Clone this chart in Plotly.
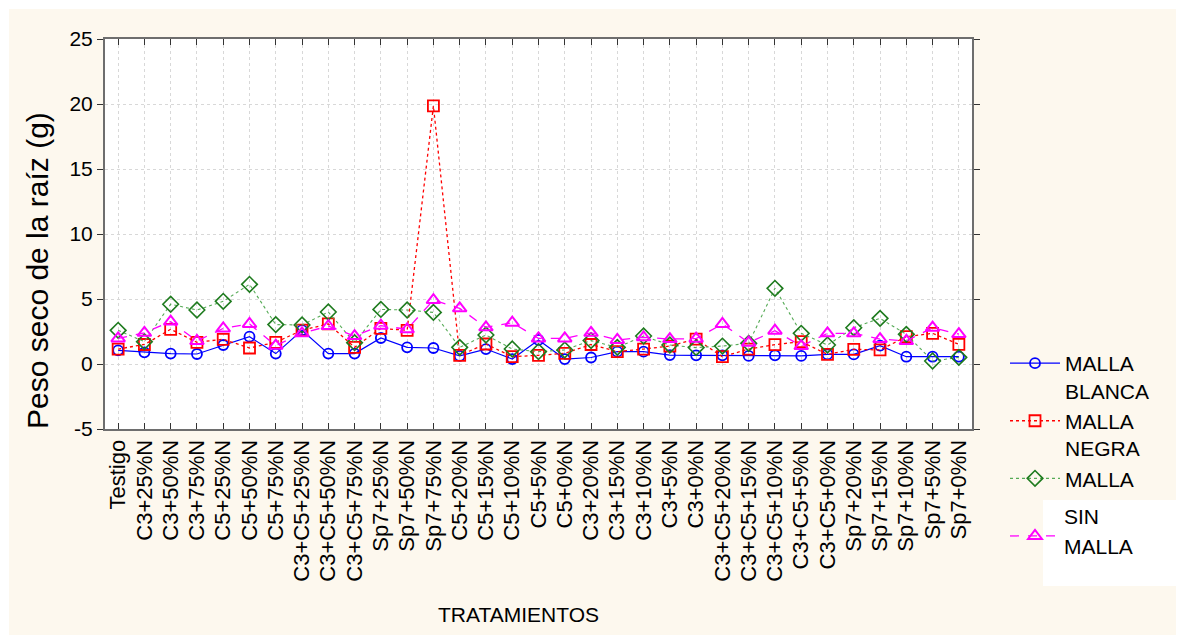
import plotly.graph_objects as go

categorias = ["Testigo", "C3+25%N", "C3+50%N", "C3+75%N", "C5+25%N", "C5+50%N", "C5+75%N",
              "C3+C5+25%N", "C3+C5+50%N", "C3+C5+75%N", "Sp7+25%N", "Sp7+50%N", "Sp7+75%N",
              "C5+20%N", "C5+15%N", "C5+10%N", "C5+5%N", "C5+0%N", "C3+20%N", "C3+15%N",
              "C3+10%N", "C3+5%N", "C3+0%N", "C3+C5+20%N", "C3+C5+15%N", "C3+C5+10%N",
              "C3+C5+5%N", "C3+C5+0%N", "Sp7+20%N", "Sp7+15%N", "Sp7+10%N", "Sp7+5%N", "Sp7+0%N"]

malla_blanca = [1.05, 0.9, 0.8, 0.77, 1.46, 2.1, 0.8, 2.6, 0.8, 0.8, 2.0, 1.28, 1.23, 0.62, 1.15,
                0.38, 1.85, 0.38, 0.5, 0.95, 0.95, 0.69, 0.67, 0.67, 0.62, 0.67, 0.62, 0.74, 0.74,
                1.41, 0.56, 0.56, 0.56]
malla_negra = [1.15, 1.5, 2.67, 1.67, 1.9, 1.23, 1.67, 2.6, 3.08, 1.28, 2.74, 2.59, 19.85, 0.67,
               1.54, 0.56, 0.67, 0.82, 1.5, 0.95, 1.15, 1.38, 1.92, 0.56, 1.15, 1.49, 1.72, 0.74,
               1.13, 1.08, 2.1, 2.36, 1.51]
malla = [2.59, 1.72, 4.6, 4.15, 4.82, 6.13, 3.03, 3.0, 4.0, 1.64, 4.2, 4.15, 3.97, 1.28, 2.23,
         1.15, 0.95, 1.08, 1.8, 1.28, 2.15, 1.46, 1.26, 1.38, 1.59, 5.82, 2.36, 1.46, 2.79, 3.51,
         2.28, 0.23, 0.51]
sin_malla = [1.97, 2.4, 3.26, 1.77, 2.74, 3.08, 1.41, 2.36, 2.92, 2.15, 2.95, 2.67, 4.92, 4.28,
             2.82, 3.18, 1.97, 1.97, 2.4, 1.85, 2.05, 1.92, 1.95, 3.08, 1.64, 2.56, 1.38, 2.36,
             2.36, 1.92, 1.77, 2.79, 2.3]

y_ticks = [-5, 0, 5, 10, 15, 20, 25]

# reference-image pixel geometry (page has an 8px body margin)
OFF = 8
W, H = 1184 - OFF, 635 - OFF
L, R, T, B = 105, 972, 39, 429
FONT = "Arial, Liberation Sans, sans-serif"

def px2x(px):
    return (px - L) / (R - L)

def py2y(py):
    return (B - py) / (B - T)

fig = go.Figure()
fig.add_trace(go.Scatter(x=categorias, y=malla_blanca, name="MALLA<br>BLANCA", mode="lines+markers",
                         line=dict(color="#0000FF", width=1.2),
                         marker=dict(symbol="circle-open", size=10, color="#0000FF", line=dict(width=1.8))))
fig.add_trace(go.Scatter(x=categorias, y=malla_negra, name="MALLA<br>NEGRA", mode="lines+markers",
                         line=dict(color="#FF0000", width=1.3, dash="dot"),
                         marker=dict(symbol="square-open", size=11, color="#FF0000", line=dict(width=1.8))))
fig.add_trace(go.Scatter(x=categorias, y=malla, name="MALLA<br> ", mode="lines+markers",
                         line=dict(color="#55AA55", width=1.1, dash="dot"),
                         marker=dict(symbol="diamond-open", size=12, color="#1E7B1E", line=dict(width=1.6))))
fig.add_trace(go.Scatter(x=categorias, y=sin_malla, name=" ", mode="lines+markers",
                         line=dict(color="#FF00FF", width=1.3, dash="dash"),
                         marker=dict(symbol="triangle-up-open", size=12, color="#FF00FF", line=dict(width=2))))

shapes = [
    dict(type="rect", xref="paper", yref="paper", layer="below",
         x0=px2x(9), x1=px2x(1184), y0=py2y(9), y1=py2y(635),
         fillcolor="#FDF8EE", line=dict(width=0)),
    dict(type="rect", xref="x domain", yref="y domain", layer="below",
         x0=0, x1=1, y0=0, y1=1, fillcolor="white", line=dict(width=0)),
    dict(type="rect", xref="paper", yref="paper", layer="above",
         x0=px2x(1043), x1=px2x(1179), y0=py2y(500), y1=py2y(586),
         fillcolor="white", line=dict(width=0)),
]

annotations = [
    dict(text="TRATAMIENTOS", xref="paper", yref="paper", x=px2x(518), y=py2y(614),
         xanchor="center", yanchor="middle",
         showarrow=False, font=dict(size=21, color="black", family=FONT)),
    dict(text="Peso seco de la raíz (g)", xref="paper", yref="paper", x=px2x(37), y=py2y(271),
         xanchor="center", yanchor="middle",
         showarrow=False, textangle=-90, font=dict(size=30, color="black", family=FONT)),
    dict(text="SIN", xref="paper", yref="paper", x=px2x(1062), y=py2y(516),
         xanchor="left", yanchor="middle",
         showarrow=False, font=dict(size=21, color="black", family=FONT)),
    dict(text="MALLA", xref="paper", yref="paper", x=px2x(1062), y=py2y(546),
         xanchor="left", yanchor="middle",
         showarrow=False, font=dict(size=21, color="black", family=FONT)),
]

fig.update_layout(
    width=W, height=H,
    margin=dict(l=L - OFF, r=W - (R - OFF), t=T - OFF, b=H - (B - OFF), pad=0),
    paper_bgcolor="white", plot_bgcolor="white",
    font=dict(family=FONT, color="black", size=21),
    shapes=shapes, annotations=annotations,
    legend=dict(x=px2x(1005), y=py2y(343), xanchor="left", yanchor="top",
                font=dict(size=21, family=FONT, color="black"), valign="top",
                bgcolor="rgba(0,0,0,0)", itemwidth=50, tracegroupgap=5),
    showlegend=True,
)
fig.update_xaxes(type="category", range=[-0.5, len(categorias) - 0.5], tickangle=-90,
                 showline=True, linecolor="#6E6E6E", linewidth=2, mirror="ticks",
                 ticks="inside", ticklen=6, tickcolor="#333333",
                 showgrid=True, gridcolor="#D8D8D8", griddash="dot", gridwidth=1,
                 tickfont=dict(size=22, family=FONT, color="black"), zeroline=False)
fig.update_yaxes(range=[-5, 25], tickvals=y_ticks, ticktext=[str(v) for v in y_ticks],
                 showline=True, linecolor="#6E6E6E", linewidth=2, mirror="ticks",
                 ticks="outside", ticklen=6, tickcolor="#333333",
                 showgrid=True, gridcolor="#D8D8D8", griddash="dot", gridwidth=1,
                 tickfont=dict(size=21, family=FONT, color="black"), zeroline=False)

fig.write_html("out.html")
